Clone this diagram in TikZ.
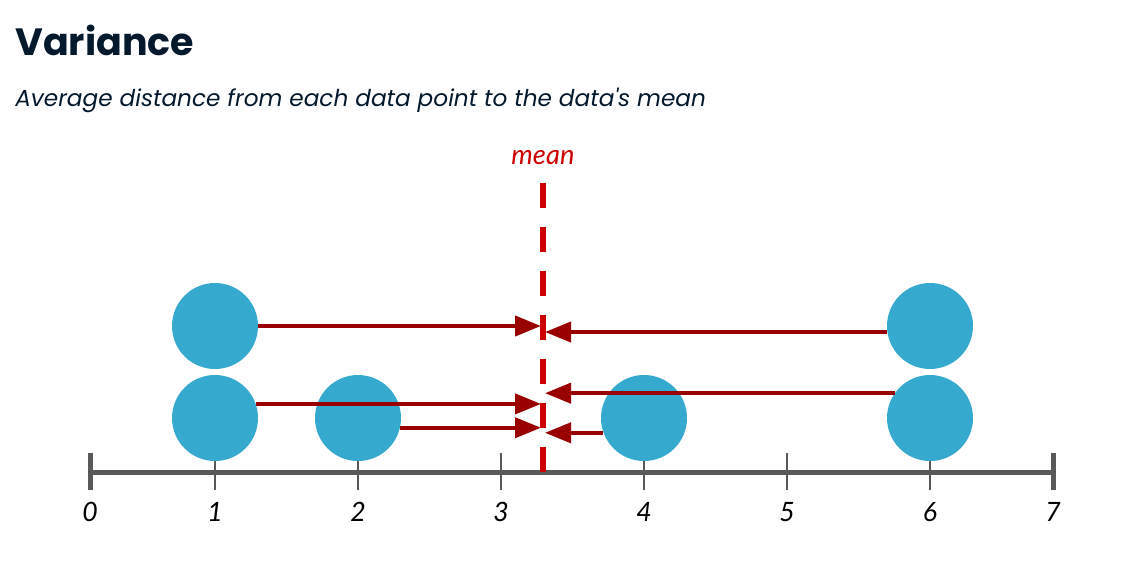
\documentclass[tikz,border=0pt]{standalone}
\usepackage{fontspec}
\setmainfont{Lato}
\newfontfamily\titelschrift{Poppins}
\usepackage{tikz}
\usetikzlibrary{arrows.meta}

\definecolor{titelblau}{HTML}{05192D}
\definecolor{punktblau}{HTML}{36A9CE}
\definecolor{pfeilrot}{HTML}{990000}
\definecolor{mittelrot}{HTML}{CC0000}
\definecolor{achsgrau}{HTML}{595959}

\begin{document}
\begin{tikzpicture}[x=0.75pt,y=-0.75pt,
  punkt/.style={circle,fill=punktblau,minimum size=64.5pt,inner sep=0pt},
  abstand/.style={draw=pfeilrot,line width=3pt,-{Triangle[length=19.5pt,width=15pt]}},
  zahl/.style={font=\itshape\fontsize{20}{20}\selectfont,text=black,inner sep=0pt}]

\useasboundingbox (0,0) rectangle (1134,572);

% Titel
\node[anchor=base west,inner sep=0pt,text=titelblau,font=\titelschrift\bfseries\fontsize{28.5}{28.5}\selectfont] (titel) at (15,55) {Variance};
\node[anchor=base west,inner sep=0pt,text=titelblau,font=\titelschrift\itshape\fontsize{17.4}{17.4}\selectfont] (untertitel) at (15,106) {Average distance from each data point to the data's mean};

% Achse
\draw[achsgrau,line width=3.75pt] (90,472) -- (1053,472);
\draw[achsgrau,line width=3.75pt] (90,453) -- (90,490);
\draw[achsgrau,line width=3.75pt] (1053,453) -- (1053,490);
\foreach \x in {215,358,501,644,787,930}
  \draw[achsgrau,line width=1.5pt] (\x,453) -- (\x,490);
\foreach \x/\z in {90/0,215/1,358/2,501/3,644/4,787/5,930/6,1053/7}
  \node[zahl] (zahl\z) at (\x,512) {\z};

% Datenpunkte
\node[punkt] (p1a) at (215,326) {};
\node[punkt] (p1b) at (215,418) {};
\node[punkt] (p2) at (358,418) {};
\node[punkt] (p4) at (644,418) {};
\node[punkt] (p6a) at (930,326) {};
\node[punkt] (p6b) at (930,418) {};

% Mittelwert
\coordinate (mlinks) at (541,0);
\coordinate (mrechts) at (545,0);
\coordinate (moben) at (543,183);
\coordinate (munten) at (543,472);
\node[text=mittelrot,font=\itshape\fontsize{20.5}{20.5}\selectfont,inner sep=0pt] (mtext) at (543,158) {mean};

% Abstaende zum Mittelwert
\draw[abstand] (p1a.east) -- (p1a.east -| mlinks);
\draw[abstand] (p1b.19) -- (p1b.19 -| mlinks);
\draw[abstand] (p2.-13) -- (p2.-13 -| mlinks);
\draw[abstand] (p6a.188) -- (p6a.188 -| mrechts);
\draw[abstand] (p6b.145) -- (p6b.145 -| mrechts);
\draw[abstand] (p4.200) -- (p4.200 -| mrechts);

\draw[mittelrot,line width=4.5pt,dash pattern=on 18.75pt off 14.25pt] (moben) -- (munten);

\end{tikzpicture}
\end{document}
